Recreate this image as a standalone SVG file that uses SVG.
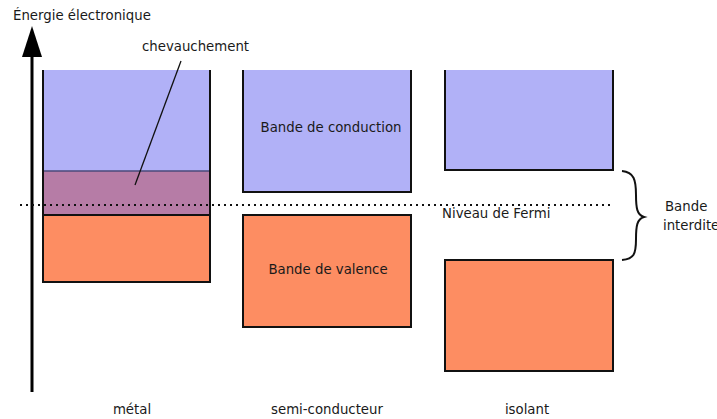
<svg xmlns="http://www.w3.org/2000/svg" width="717" height="419" viewBox="0 0 717 419">
<style>
text{font-family:"DejaVu Sans",Verdana,sans-serif;font-size:13.3px;fill:#1a1a1a}
.c{fill:#b1b1f7}
.v{fill:#fd8d62}
.o{fill:#b67ca6}
.b{fill:none;stroke:#111;stroke-width:2}
</style>
<rect width="717" height="419" fill="#fff"/>
<g id="axis">
<line x1="32" y1="392" x2="32" y2="54" stroke="#000" stroke-width="3"/>
<polygon points="32,26 22,57 42,57" fill="#000"/>
<text x="13" y="20">Énergie électronique</text>
</g>
<g id="metal">
<rect class="c" x="43" y="70" width="167" height="101"/>
<rect class="o" x="43" y="171" width="167" height="44"/>
<rect class="v" x="43" y="215" width="167" height="67"/>
<line x1="43" y1="171" x2="210" y2="171" stroke="#4a4a7a" stroke-width="1.3"/>
<line x1="43" y1="215" x2="210" y2="215" stroke="#111" stroke-width="2"/>
<path class="b" d="M43,70 V282 H210 V70"/>
<text x="132" y="414" text-anchor="middle">métal</text>
</g>
<g id="chevauchement">
<text x="142" y="51">chevauchement</text>
<line x1="181" y1="61" x2="135" y2="185" stroke="#111" stroke-width="1.3"/>
</g>
<g id="semi">
<rect class="c" x="243" y="70" width="168" height="122"/>
<path class="b" d="M243,70 V192 H411 V70"/>
<text x="331" y="132" text-anchor="middle">Bande de conduction</text>
<rect class="v" x="243" y="215" width="168" height="112"/>
<rect class="b" x="243" y="215" width="168" height="112"/>
<text x="328" y="274" text-anchor="middle">Bande de valence</text>
<text x="327" y="414" text-anchor="middle">semi-conducteur</text>
</g>
<g id="isolant">
<rect class="c" x="445" y="70" width="168" height="100"/>
<path class="b" d="M445,70 V170 H613 V70"/>
<rect class="v" x="445" y="260" width="168" height="111"/>
<rect class="b" x="445" y="260" width="168" height="111"/>
<text x="527" y="414" text-anchor="middle">isolant</text>
</g>
<g id="fermi">
<line x1="20" y1="205" x2="613" y2="205" stroke="#111" stroke-width="2" stroke-dasharray="2,4"/>
<text x="442" y="218">Niveau de Fermi</text>
</g>
<g id="gap">
<path d="M622,171 C634,172 636,180 636,195 C636,208 637,215 644,217 C637,219 636,226 636,239 C636,254 634,259 622,260" fill="none" stroke="#111" stroke-width="2"/>
<text x="665" y="211">Bande</text>
<text x="663" y="230">interdite</text>
</g>
</svg>
